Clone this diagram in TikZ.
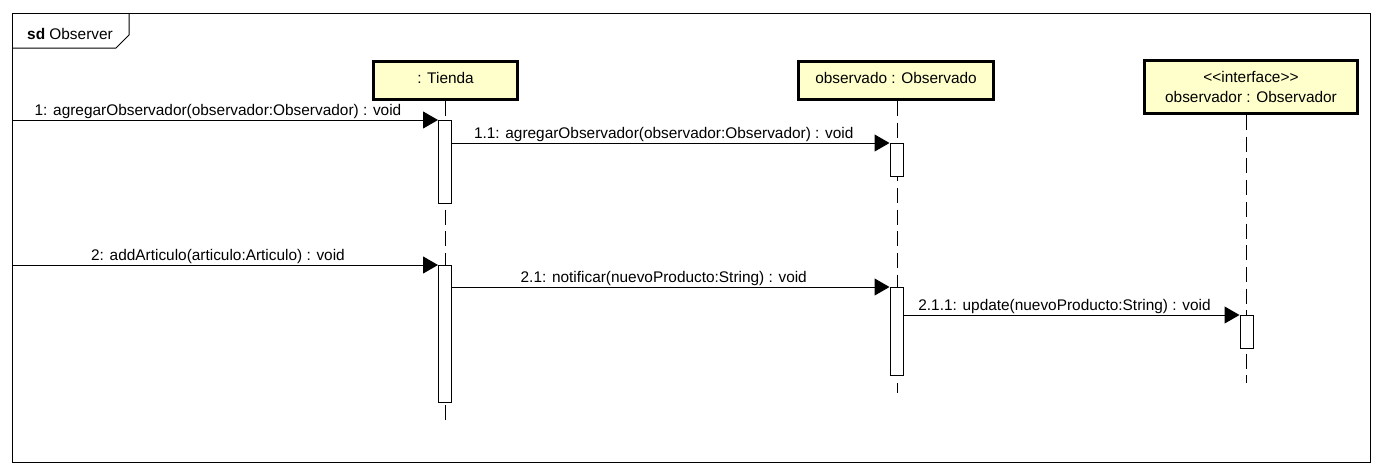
\documentclass[tikz,border=0pt]{standalone}
\usepackage{fontspec}
\setmainfont{Liberation Sans}
\usepackage{tikz}
\usetikzlibrary{arrows.meta}
\definecolor{objfill}{HTML}{FFFFCC}
\tikzset{msg/.style = {-{Triangle[length=15pt, width=17pt]}, line width=1pt}}
\tikzset{obj/.style = {draw, fill = objfill, line width = 3pt}}
\tikzset{act/.style = {draw, fill = white, line width = 1pt, minimum width = 13pt, anchor = north, inner sep = 0}}
\tikzset{lifeline/.style = {line width = 1pt, dash pattern = on 15pt off 6.7pt}}
\tikzset{lbl/.style = {midway, anchor = base, xshift = -7pt, yshift = 5pt, inner sep = 0}}

\begin{document}
\begin{tikzpicture}[x=1pt, y=-1pt, font=\fontsize{15.4}{20}\selectfont]
    \useasboundingbox (0, 0) rectangle (1382, 474);
    \node [draw, line width = 1pt, minimum width = 1358pt, minimum height = 449pt, anchor = north west, inner sep = 0] (frame) at (12, 13) {};
    \draw [line width = 1pt] (12, 48) -- (116, 48) -- (129, 35) -- (129, 13);
    \node [anchor = base west, inner sep = 0] (title) at (27, 39) {\textbf{sd} Observer};

    \node [obj, minimum width = 144pt, minimum height = 38pt, text height = 11pt, text depth = 5pt] (tienda) at (445.5, 80.5) {: Tienda};
    \node [obj, minimum width = 195pt, minimum height = 38pt, text height = 11pt, text depth = 5pt] (observado) at (896, 80.5) {observado : Observado};
    \node [obj, minimum width = 213pt, minimum height = 53pt, align = center] (observador) at (1251, 87) {<\kern0pt<interface>\kern0pt>\\observador : Observador};

    \coordinate (endT) at (445, 422);
    \coordinate (endO) at (897, 393);
    \coordinate (endI) at (1246.5, 383);
    \draw [lifeline] (tienda.south -| endT) -- (endT);
    \draw [lifeline] (observado.south -| endO) -- (endO);
    \draw [lifeline] (observador.south -| endI) -- (endI);

    \node [act, minimum height = 83pt] (t1) at (445, 120) {};
    \node [act, minimum height = 33pt] (o1) at (896.5, 143) {};
    \node [act, minimum height = 137pt] (t2) at (445, 265) {};
    \node [act, minimum height = 88pt] (o2) at (896.5, 287) {};
    \node [act, minimum height = 33pt] (i1) at (1246.5, 315) {};

    \draw [msg] (frame.west |- t1.north west) -- (t1.north west) node [lbl] {1: agregarObservador(observador:Observador) : void};
    \draw [msg] (t1.east |- o1.north) -- (o1.north west) node [lbl] {1.1: agregarObservador(observador:Observador) : void};
    \draw [msg] (frame.west |- t2.north west) -- (t2.north west) node [lbl] {2: addArticulo(articulo:Articulo) : void};
    \draw [msg] (t2.east |- o2.north) -- (o2.north west) node [lbl] {2.1: notificar(nuevoProducto:String) : void};
    \draw [msg] (o2.east |- i1.north) -- (i1.north west) node [lbl] {2.1.1: update(nuevoProducto:String) : void};
\end{tikzpicture}
\end{document}
